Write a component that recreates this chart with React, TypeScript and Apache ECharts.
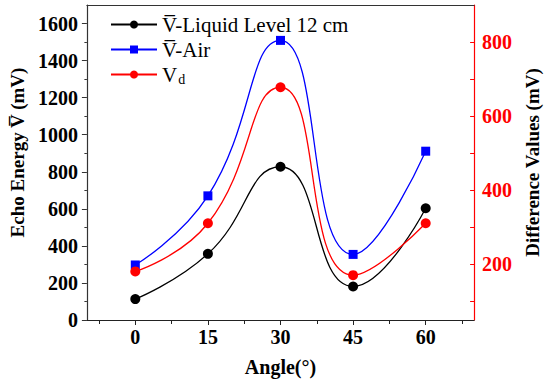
import React, { useEffect, useRef } from "react";
import * as echarts from "echarts";

const angles = [0, 15, 30, 45, 60];
const liquidLevel = [113, 357, 827, 181, 603];
const airValues = [297, 670, 1509, 354, 911];
const diffValues = [181, 311, 678, 171, 311];

const xTicks = [0, 15, 30, 45, 60];
const xMinorTicks = [-7.5, 7.5, 22.5, 37.5, 52.5, 67.5];
const leftTicks = [0, 200, 400, 600, 800, 1000, 1200, 1400, 1600];
const leftMinorTicks = [100, 300, 500, 700, 900, 1100, 1300, 1500];
const rightTicks = [200, 400, 600, 800];
const rightMinorTicks = [100, 300, 500, 700];

const seriesNames = ["Liquid", "Air", "Vd"];
const legendLabels: Record<string, string> = {
  Liquid: "V\u0305-Liquid Level 12 cm",
  Air: "V\u0305-Air",
  Vd: "V{sub|d}",
};

const FONT = "Liberation Serif";

export default function App() {
  const ref = useRef<HTMLDivElement>(null);
  useEffect(() => {
    if (!ref.current) return;
    const chart = echarts.init(ref.current, null, { renderer: "svg" });
    const pair = (vals: number[]) => angles.map((a, i) => [a, vals[i]]);
    const plain = (v: number) => String(v);
    const labelStyle = { fontFamily: FONT, fontWeight: "bold" as const, fontSize: 20, color: "#000" };
    chart.setOption({
      animation: false,
      backgroundColor: "#fff",
      textStyle: { fontFamily: FONT },
      grid: { left: 83, right: 66, top: 5, bottom: 59, containLabel: false },
      legend: {
        orient: "vertical",
        left: 105,
        top: 9,
        itemWidth: 46,
        itemHeight: 10,
        itemGap: 4,
        data: seriesNames,
        formatter: (n: string) => legendLabels[n],
        textStyle: {
          fontFamily: FONT,
          fontSize: 21,
          color: "#000",
          rich: {
            sub: { fontFamily: FONT, fontSize: 14, color: "#000", padding: [10, 0, 0, 1] },
          },
        },
      },
      xAxis: [
        {
          type: "value",
          min: -10,
          max: 70,
          position: "bottom",
          axisLine: { show: true, onZero: false, lineStyle: { color: "#222", width: 1.2 } },
          axisTick: { show: true, inside: false, length: 5, customValues: xTicks, lineStyle: { color: "#222" } },
          axisLabel: { ...labelStyle, margin: 7, customValues: xTicks, formatter: plain },
          splitLine: { show: false },
          name: "Angle(°)",
          nameLocation: "middle",
          nameGap: 37,
          nameTextStyle: { fontFamily: FONT, fontWeight: "bold", fontSize: 20, color: "#000" },
        },
        {
          type: "value",
          min: -10,
          max: 70,
          position: "bottom",
          axisLine: { show: false, onZero: false },
          axisTick: { show: true, inside: false, length: 4, customValues: xMinorTicks, lineStyle: { color: "#222" } },
          axisLabel: { show: false },
          splitLine: { show: false },
        },
        {
          type: "value",
          min: -10,
          max: 70,
          position: "top",
          axisLine: { show: true, onZero: false, lineStyle: { color: "#333", width: 1.2 } },
          axisTick: { show: false },
          axisLabel: { show: false },
          splitLine: { show: false },
        },
      ],
      yAxis: [
        {
          type: "value",
          min: 0,
          max: 1700,
          position: "left",
          axisLine: { show: true, onZero: false, lineStyle: { color: "#333", width: 1.2 } },
          axisTick: { show: true, inside: false, length: 5, customValues: leftTicks, lineStyle: { color: "#333" } },
          axisLabel: { ...labelStyle, margin: 9, customValues: leftTicks, formatter: plain },
          splitLine: { show: false },
          name: "Echo Energy V\u0305 (mV)",
          nameLocation: "middle",
          nameRotate: 90,
          nameGap: 57,
          nameTextStyle: { fontFamily: FONT, fontWeight: "bold", fontSize: 19, color: "#000", padding: [0, 0, 0, 20] },
        },
        {
          type: "value",
          min: 50,
          max: 900,
          position: "right",
          axisLine: { show: true, onZero: false, lineStyle: { color: "#ff0000", width: 1.2 } },
          axisTick: { show: true, inside: true, length: 4, customValues: rightTicks, lineStyle: { color: "#ff0000" } },
          axisLabel: { ...labelStyle, color: "#ff0000", margin: 8, customValues: rightTicks, formatter: plain },
          splitLine: { show: false },
          name: "Difference Values (mV)",
          nameLocation: "middle",
          nameRotate: 90,
          nameGap: 46,
          nameTextStyle: { fontFamily: FONT, fontWeight: "bold", fontSize: 19, color: "#000" },
        },
        {
          type: "value",
          min: 0,
          max: 1700,
          position: "left",
          axisLine: { show: false, onZero: false },
          axisTick: { show: true, inside: false, length: 2.5, customValues: leftMinorTicks, lineStyle: { color: "#333" } },
          axisLabel: { show: false },
          splitLine: { show: false },
        },
        {
          type: "value",
          min: 50,
          max: 900,
          position: "right",
          axisLine: { show: false, onZero: false },
          axisTick: { show: true, inside: true, length: 4, customValues: rightMinorTicks, lineStyle: { color: "#ff0000" } },
          axisLabel: { show: false },
          splitLine: { show: false },
        },
      ],
      series: [
        {
          name: "Liquid",
          type: "line",
          xAxisIndex: 0,
          yAxisIndex: 0,
          data: pair(liquidLevel),
          smooth: 0.5,
          symbol: "circle",
          symbolSize: 10,
          lineStyle: { color: "#000", width: 1.3 },
          itemStyle: { color: "#000" },
          z: 3,
        },
        {
          name: "Air",
          type: "line",
          xAxisIndex: 0,
          yAxisIndex: 0,
          data: pair(airValues),
          smooth: 0.5,
          symbol: "rect",
          symbolSize: 9,
          lineStyle: { color: "#0000ff", width: 1.3 },
          itemStyle: { color: "#0000ff" },
          z: 3,
        },
        {
          name: "Vd",
          type: "line",
          xAxisIndex: 0,
          yAxisIndex: 1,
          data: pair(diffValues),
          smooth: 0.5,
          symbol: "circle",
          symbolSize: 10,
          lineStyle: { color: "#ff0000", width: 1.3 },
          itemStyle: { color: "#ff0000" },
          z: 3,
        },
      ],
    });
    return () => chart.dispose();
  }, []);
  return <div ref={ref} style={{ width: 550, height: 382, position: "absolute", left: 0, top: 0 }} />;
}
